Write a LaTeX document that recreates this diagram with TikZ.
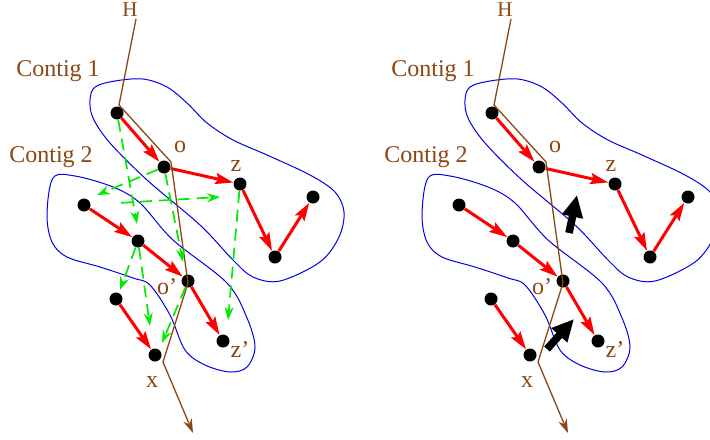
\documentclass[tikz,border=0pt]{standalone}
\usepackage{fontspec}
\setmainfont{Liberation Serif}
\usetikzlibrary{arrows.meta}
\definecolor{tracebrown}{RGB}{140,70,20}
\definecolor{contigblue}{RGB}{0,0,230}
\definecolor{linkgreen}{RGB}{0,235,0}

\begin{document}
\begin{tikzpicture}[x=0.5pt,y=-0.5pt,
  dot/.style={circle,fill=black,inner sep=0pt,minimum size=6.5pt},
  link/.style={red,line width=1.5pt,-{Stealth[length=9pt,width=5.5pt,inset=1.5pt]}},
  jump/.style={linkgreen,line width=0.85pt,dash pattern=on 6pt off 3.5pt,-{Stealth[length=6.5pt,width=4.5pt]}},
  trace/.style={tracebrown,line width=0.65pt},
  blob/.style={contigblue,line width=0.5pt},
  lbl/.style={text=tracebrown,inner sep=0pt,font=\fontsize{12}{14}\selectfont},
  push/.style={line width=3.8pt,-{Triangle[length=11pt,width=10pt]}}]
\useasboundingbox (0,0) rectangle (710,439);

% the two panels share contigs, reads and the trace
\foreach \p/\dx in {L/0,R/375}{
\begin{scope}[shift={(\dx,0)}]
% contigs
\draw[blob] plot[smooth cycle,tension=0.55] coordinates {(95,87) (115,81) (143,79) (167,87) (187,103) (207,123) (233,140) (267,155) (310,175) (335,192) (344,212) (339,237) (320,262) (280,281) (253,277) (233,260) (200,225) (147,180) (110,143) (93,118) (90,100)};
\draw[blob] plot[smooth cycle,tension=0.55] coordinates {(53,178) (75,176) (113,187) (140,203) (173,240) (227,283) (247,318) (255,347) (247,367) (230,372) (205,365) (185,350) (170,315) (150,285) (133,278) (100,267) (67,257) (52,242) (47,215)};
\node[lbl] (\p-c1) at (58,71) {Contig 1};
\node[lbl] (\p-c2) at (51,157) {Contig 2};
% reads
\node[dot] (\p-a1) at (117,113) {};
\node[dot] (\p-o) at (164,167) {};
\node[dot] (\p-z) at (240,184) {};
\node[dot] (\p-v) at (275,257) {};
\node[dot] (\p-t) at (313,197) {};
\node[dot] (\p-b1) at (84,205) {};
\node[dot] (\p-b2) at (138,241) {};
\node[dot] (\p-op) at (188,281) {};
\node[dot] (\p-zp) at (223,341) {};
\node[dot] (\p-w) at (116,299) {};
\node[dot] (\p-x) at (155,355) {};
\draw[link] (\p-a1) -- (\p-o);
\draw[link] (\p-o) -- (\p-z);
\draw[link] (\p-z) -- (\p-v);
\draw[link] (\p-v) -- (\p-t);
\draw[link] (\p-b1) -- (\p-b2);
\draw[link] (\p-b2) -- (\p-op);
\draw[link] (\p-op) -- (\p-zp);
\draw[link] (\p-w) -- (\p-x);
\node[lbl] (\p-lo) at (180,147) {o};
\node[lbl] (\p-lz) at (236,166) {z};
\node[lbl] (\p-lop) at (167,287) {o'};
\node[lbl] (\p-lzp) at (240,350) {z'};
\node[lbl] (\p-lx) at (152,382) {x};
% trace
\node[lbl,font=\fontsize{10.5}{12}\selectfont] (\p-H) at (130,10) {H};
\coordinate (\p-h0) at (136,19);
\coordinate (\p-h1) at (119,105);
\coordinate (\p-h2) at (171,162);
\coordinate (\p-h3) at (188,283);
\coordinate (\p-h4) at (163,362);
\coordinate (\p-h5) at (193,433);
\draw[trace] (\p-h0) -- (\p-h1) -- (\p-h2) -- (\p-h3) -- (\p-h4);
\draw[trace,-{Stealth[length=7pt,width=4.5pt]}] (\p-h4) -- (\p-h5);
\end{scope}
}

% left: candidate jumps
\coordinate (e1) at (137,224);
\coordinate (e2) at (97,195);
\coordinate (e3) at (220,197);
\coordinate (e4) at (183,262);
\coordinate (e5) at (228,320);
\coordinate (e6) at (120,290);
\coordinate (e7) at (150,326);
\coordinate (e8) at (162,343);
\draw[jump] (L-a1) -- (e1);
\draw[jump] (L-o) -- (e2);
\draw[jump,shorten <=15pt] (L-b1) -- (e3);
\draw[jump] (L-o) -- (e4);
\draw[jump] (L-z) -- (e5);
\draw[jump] (L-b2) -- (e6);
\draw[jump] (L-b2) -- (e7);
\draw[jump] (L-op) -- (e8);

% right: moves
\coordinate (m1s) at (569,233);
\coordinate (m1e) at (577,195);
\coordinate (m2s) at (547,349);
\coordinate (m2e) at (574,319);
\draw[push] (m1s) -- (m1e);
\draw[push] (m2s) -- (m2e);
\end{tikzpicture}
\end{document}
